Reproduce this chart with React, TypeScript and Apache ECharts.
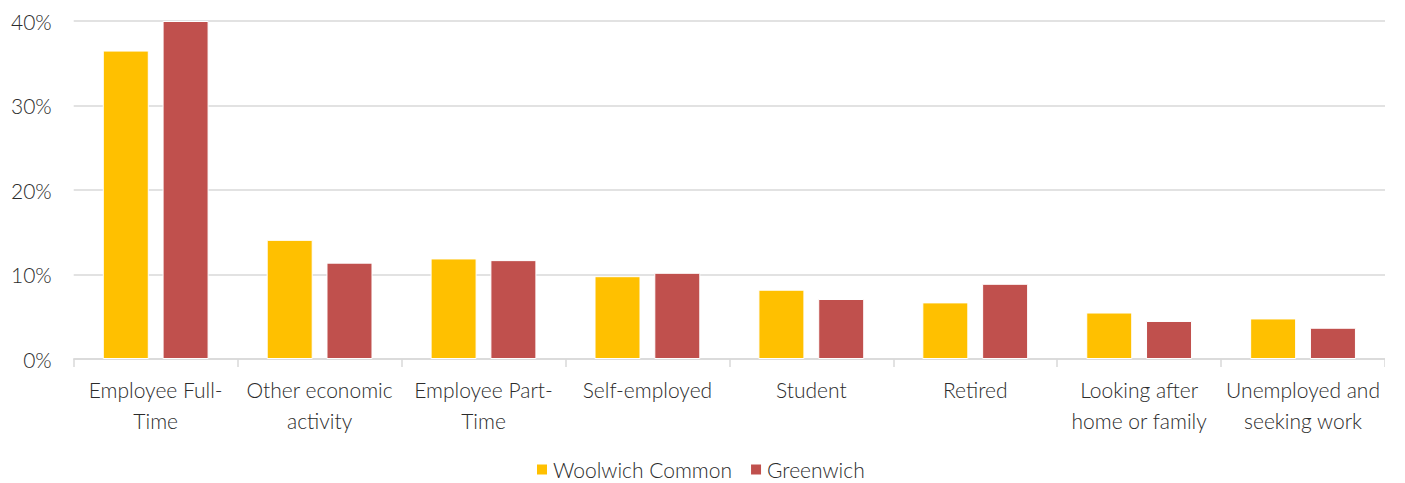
import React, { useEffect, useRef } from "react";
import * as echarts from "echarts";

const categories = [
  "Employee Full-\nTime",
  "Other economic\nactivity",
  "Employee Part-\nTime",
  "Self-employed",
  "Student",
  "Retired",
  "Looking after\nhome or family",
  "Unemployed and\nseeking work",
];
const woolwich = [36.5, 14.1, 11.9, 9.8, 8.2, 6.7, 5.5, 4.8];
const greenwich = [40.0, 11.4, 11.7, 10.2, 7.1, 8.9, 4.5, 3.7];
const yTicks = [0, 10, 20, 30, 40];

const FONT = "Lato, 'Open Sans', sans-serif";
const TEXT = "#2b2b2b";

export default function App() {
  const ref = useRef<HTMLDivElement>(null);
  useEffect(() => {
    const chart = echarts.init(ref.current!, null, { renderer: "svg" });
    chart.setOption({
      animation: false,
      textStyle: { fontFamily: FONT },
      grid: { left: 62, right: 0, top: 13, bottom: 124, containLabel: false },
      legend: {
        top: 446,
        left: 522,
        itemWidth: 12,
        itemHeight: 12,
        itemGap: 17,
        icon: "rect",
        textStyle: { fontSize: 21, fontWeight: 300, color: TEXT, fontFamily: FONT },
        data: ["Woolwich Common", "Greenwich"],
      },
      xAxis: {
        type: "category",
        data: categories,
        axisLine: { lineStyle: { color: "#d9d9d9", width: 1.5 } },
        axisTick: { show: true, length: 8, lineStyle: { color: "#d9d9d9", width: 1.5 } },
        axisLabel: {
          interval: 0,
          margin: 15,
          fontSize: 21,
          fontWeight: 300,
          lineHeight: 31,
          color: TEXT,
          fontFamily: FONT,
        },
      },
      yAxis: {
        type: "value",
        min: yTicks[0],
        max: yTicks[yTicks.length - 1],
        interval: 10,
        axisLine: { show: false },
        axisTick: { show: false },
        splitLine: { lineStyle: { color: "#d9d9d9", width: 1.5 } },
        axisLabel: {
          margin: 22,
          fontSize: 21,
          fontWeight: 300,
          color: TEXT,
          fontFamily: FONT,
          formatter: (v: number) => v + "%",
        },
      },
      series: [
        {
          name: "Woolwich Common",
          type: "bar",
          data: woolwich,
          barWidth: 46,
          barGap: "30%",
          itemStyle: { color: "#FFC000", borderColor: "#ffffff", borderWidth: 1 },
        },
        {
          name: "Greenwich",
          type: "bar",
          data: greenwich,
          barWidth: 46,
          itemStyle: { color: "#C0504D", borderColor: "#ffffff", borderWidth: 1 },
        },
      ],
    });
    return () => chart.dispose();
  }, []);
  return <div ref={ref} style={{ width: 1377, height: 475 }} />;
}
